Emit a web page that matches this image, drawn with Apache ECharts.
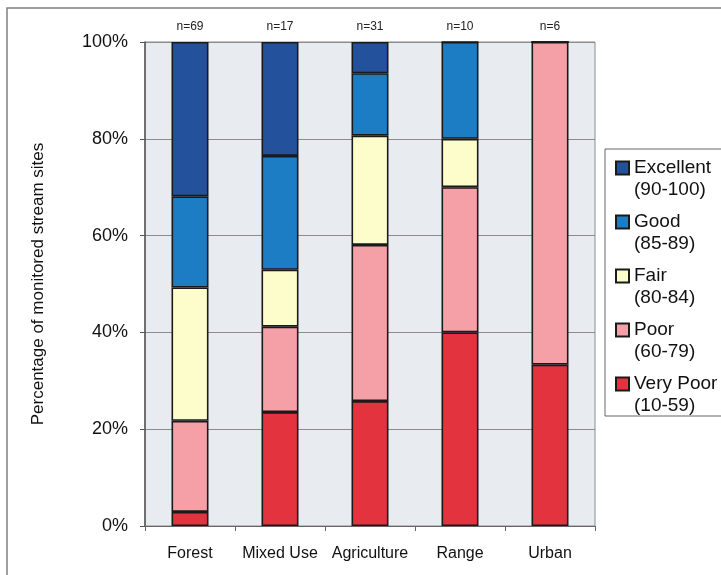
<!DOCTYPE html>
<html>
<head>
<meta charset="utf-8">
<script src="https://cdn.jsdelivr.net/npm/echarts@6/dist/echarts.min.js"></script>
<style>
  html, body { margin: 0; padding: 0; background: #ffffff; }
  #chart { width: 721px; height: 575px; }
</style>
</head>
<body>
<div id="chart"></div>
<script>
// Land-use categories along the x axis
const categories = ['Forest', 'Mixed Use', 'Agriculture', 'Range', 'Urban'];

// Number of monitored sites in each condition class, per land use
const veryPoorSites  = [2, 4, 8, 4, 2];
const poorSites      = [13, 3, 10, 3, 4];
const fairSites      = [19, 2, 7, 1, 0];
const goodSites      = [13, 4, 4, 2, 0];
const excellentSites = [22, 4, 2, 0, 0];

// Sample sizes shown above each bar
const sampleSizes = [69, 17, 31, 10, 6];

// Condition classes (legend names) with score ranges
const classNames  = ['Very Poor', 'Poor', 'Fair', 'Good', 'Excellent'];
const classRanges = ['(10-59)', '(60-79)', '(80-84)', '(85-89)', '(90-100)'];
const classColors = ['#e2333f', '#f4a0a6', '#fdfdcc', '#1c7cc4', '#24519c'];

const yTicks = [0, 20, 40, 60, 80, 100];

const counts = [veryPoorSites, poorSites, fairSites, goodSites, excellentSites];

const toPercent = (arr) => arr.map((v, i) => (v / sampleSizes[i]) * 100);

const rangeOf = {};
classNames.forEach((n, i) => { rangeOf[n] = classRanges[i]; });

const series = classNames.map((name, k) => ({
  name: name,
  type: 'bar',
  stack: 'sites',
  barWidth: 37,
  data: toPercent(counts[k]),
  itemStyle: {
    color: classColors[k],
    borderColor: '#1a1a1a',
    borderWidth: 1.6
  }
}));

const chart = echarts.init(document.getElementById('chart'), null, { renderer: 'canvas' });

chart.setOption({
  animation: false,
  backgroundColor: '#ffffff',
  textStyle: { fontFamily: 'Liberation Sans, Arial, sans-serif' },
  graphic: [
    // outer frame around the whole figure
    {
      type: 'rect',
      shape: { x: 7, y: 8, width: 760, height: 620 },
      style: { fill: 'none', stroke: '#808080', lineWidth: 1.5 },
      silent: true,
      z: -10
    },
    // legend box, running off the right edge of the figure
    {
      type: 'rect',
      shape: { x: 605, y: 149, width: 200, height: 267 },
      style: { fill: '#ffffff', stroke: '#666666', lineWidth: 1 },
      silent: true,
      z: -5
    }
  ],
  grid: {
    left: 145,
    right: 126,
    top: 42,
    bottom: 49,
    show: true,
    backgroundColor: '#e8ebf0',
    borderColor: '#8a8a8a',
    borderWidth: 1
  },
  legend: {
    orient: 'vertical',
    left: 605,
    top: 149,
    padding: [8, 10, 0, 10],
    itemWidth: 13,
    itemHeight: 35,
    itemGap: 10,
    icon: 'path://M0,0L13,0L13,13L0,13Z M0,35',
    data: classNames.slice().reverse(),
    formatter: (name) => name + '\n' + rangeOf[name],
    textStyle: {
      fontSize: 19,
      lineHeight: 22,
      color: '#111111',
      fontFamily: 'Liberation Sans, Arial, sans-serif'
    }
  },
  xAxis: [
    {
      type: 'category',
      data: categories,
      boundaryGap: true,
      axisLine: { lineStyle: { color: '#666666', width: 1 } },
      axisTick: { show: true, inside: false, length: 5, lineStyle: { color: '#666666' } },
      axisLabel: { interval: 0, fontSize: 16, color: '#111111', margin: 20 }
    },
    {
      type: 'category',
      position: 'top',
      data: sampleSizes.map((n) => 'n=' + n),
      boundaryGap: true,
      axisLine: { show: false },
      axisTick: { show: false },
      axisLabel: { interval: 0, fontSize: 12, color: '#222222', margin: 9 }
    }
  ],
  yAxis: {
    type: 'value',
    min: 0,
    max: 100,
    interval: 20,
    name: 'Percentage of monitored stream sites',
    nameLocation: 'middle',
    nameGap: 98,
    nameTextStyle: { fontSize: 17, color: '#111111' },
    axisLine: { show: true, lineStyle: { color: '#555555', width: 1.5 } },
    axisTick: { show: true, inside: false, length: 5, lineStyle: { color: '#555555' } },
    axisLabel: {
      fontSize: 18,
      color: '#111111',
      margin: 17,
      formatter: (v) => (yTicks.includes(v) ? v + '%' : '')
    },
    splitLine: { show: true, lineStyle: { color: '#8c8c8c', width: 1 } }
  },
  series: series
});
</script>
</body>
</html>
